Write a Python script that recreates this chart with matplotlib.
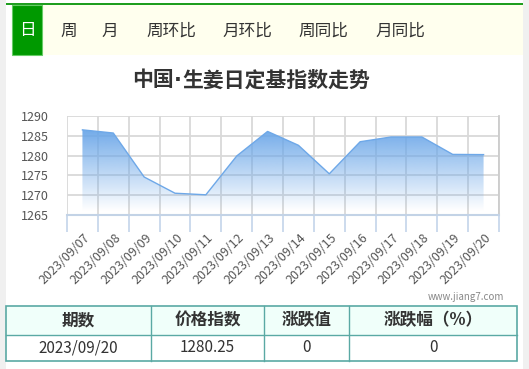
import numpy as np
import matplotlib
matplotlib.use("Agg")
import matplotlib.pyplot as plt
import matplotlib.patches as mpatches
from matplotlib.colors import to_rgb

plt.rcParams['font.family'] = ['Noto Sans CJK SC', 'DejaVu Sans']

# ---------------------------------------------------------------------------
# Data
# ---------------------------------------------------------------------------
dates = ["2023/09/07", "2023/09/08", "2023/09/09", "2023/09/10", "2023/09/11",
         "2023/09/12", "2023/09/13", "2023/09/14", "2023/09/15", "2023/09/16",
         "2023/09/17", "2023/09/18", "2023/09/19", "2023/09/20"]
values = [1286.5, 1285.7, 1274.6, 1270.5, 1270.1,
          1279.9, 1286.1, 1282.6, 1275.4, 1283.5,
          1284.7, 1284.7, 1280.3, 1280.25]
y_ticks = [1265, 1270, 1275, 1280, 1285, 1290]

tabs = ["日", "周", "月", "周环比", "月环比", "周同比", "月同比"]
title_parts = ["中国", "·", "生姜日定基指数走势"]
table_header = ["期数", "价格指数", "涨跌值", "涨跌幅（%）"]
table_row = ["2023/09/20", "1280.25", "0", "0"]

W, H = 529, 369
fig = plt.figure(figsize=(W / 100, H / 100), dpi=100)

# background overlay in pixel coordinates
bg = fig.add_axes([0, 0, 1, 1])
bg.set_xlim(0, W)
bg.set_ylim(H, 0)
bg.axis("off")

# side strips
bg.add_patch(mpatches.Rectangle((0, 0), 6, H, color="#f0f0f0", lw=0))
bg.add_patch(mpatches.Rectangle((523, 0), 6, H, color="#f0f0f0", lw=0))

# tab bar
bg.add_patch(mpatches.Rectangle((6, 3), 517, 2.3, color="#1f9e1f", lw=0))
bg.add_patch(mpatches.Rectangle((12, 5.3), 511, 49.7, color="#ffffee", lw=0))
bg.add_patch(mpatches.Rectangle((12, 5.3), 30, 49.7, facecolor="#009900",
                                edgecolor="#66cc66", lw=0.8))
tab_x = [27, 69, 110, 171, 247, 323, 400]
for i, (t, x) in enumerate(zip(tabs, tab_x)):
    bg.text(x, 31, t, ha="center", va="center", fontsize=12,
            color="white" if i == 0 else "#333333")

# title (middle dot drawn separately so it stays narrow)
tkw = dict(va="center", fontsize=15, fontweight="bold", color="#333333")
bg.text(174, 80, title_parts[0], ha="right", **tkw)
bg.text(178, 80, title_parts[1], ha="center", family="DejaVu Sans", **tkw)
bg.text(182, 80, title_parts[2], ha="left", **tkw)

# watermark
bg.text(504, 297, "www.jiang7.com", ha="right", va="center", fontsize=7,
        color="#888888")

# table
tx0, tx1 = 6, 517
ty0, ty1, ty2 = 306, 335, 361
col_edges = [tx0, 151, 264, 349, tx1]
bg.add_patch(mpatches.Rectangle((tx0, ty0), tx1 - tx0, ty1 - ty0,
                                color="#f0fffa", lw=0))
border = "#5aa9a4"
bg.add_patch(mpatches.Rectangle((tx0, ty0), tx1 - tx0, ty2 - ty0,
                                fill=False, edgecolor=border, lw=1.2))
bg.plot([tx0, tx1], [ty1, ty1], color=border, lw=1.0)
for cx in col_edges[1:-1]:
    bg.plot([cx, cx], [ty0, ty2], color=border, lw=1.0)
for i in range(4):
    cx = (col_edges[i] + col_edges[i + 1]) / 2
    bg.text(cx, (ty0 + ty1) / 2, table_header[i], ha="center", va="center",
            fontsize=12, fontweight="bold", color="#333333")
    bg.text(cx, (ty1 + ty2) / 2, table_row[i], ha="center", va="center",
            fontsize=11, color="#333333")

# ---------------------------------------------------------------------------
# Chart
# ---------------------------------------------------------------------------
left, right, top, bottom = 67, 499, 116, 215
ax = fig.add_axes([left / W, 1 - bottom / H, (right - left) / W, (bottom - top) / H])
ax.patch.set_alpha(0)
n = len(dates)
x = np.arange(n)
ax.set_xlim(-0.5, n - 0.5)
ax.set_ylim(1265, 1290)

grid_c = "#d9d9d9"
for yv in y_ticks[1:]:
    ax.axhline(yv, color=grid_c, lw=1.3, zorder=1)
for xb in np.arange(-0.5, n, 1.0):
    ax.axvline(xb, color=grid_c, lw=1.3, zorder=1)

for s in ["top", "left"]:
    ax.spines[s].set_visible(False)
ax.spines["right"].set_color("#cccccc")
ax.spines["right"].set_linewidth(1.3)
ax.spines["bottom"].set_color("#c3d3e6")
ax.spines["bottom"].set_linewidth(1.5)

ax.set_yticks(y_ticks)
ax.set_yticklabels([str(v) for v in y_ticks], fontsize=9, color="#555555")
ax.tick_params(axis="y", length=0, pad=13)

ax.set_xticks(np.arange(-0.5, n, 1.0), minor=False)
ax.set_xticklabels([""] * (n + 1))
ax.tick_params(axis="x", length=12, width=1.3, color="#c8d8ec")
for xi, lab in zip(x, dates):
    ax.annotate(lab, xy=(xi, 0), xycoords=("data", "axes fraction"),
                xytext=(1, -16), textcoords="offset pixels",
                rotation=45, ha="right", va="top", rotation_mode="anchor",
                fontsize=9, color="#555555", annotation_clip=False)

# gradient fill
fill_bottom = 1266
poly = ax.fill_between(x, values, fill_bottom, color="none", lw=0)
top_rgb = np.array(to_rgb("#6aa6e8"))
grad = np.ones((256, 1, 4))
grad[:, 0, :3] = top_rgb
grad[:, 0, 3] = np.linspace(0.95, 0.0, 256)
img = ax.imshow(grad, extent=[x[0], x[-1], fill_bottom, max(values)],
                aspect="auto", origin="upper", zorder=2)
path = poly.get_paths()[0]
img.set_clip_path(path, transform=ax.transData)
ax.plot(x, values, color="#6ea8e8", lw=1.0, zorder=3)

fig.savefig("out.png", dpi=100)
